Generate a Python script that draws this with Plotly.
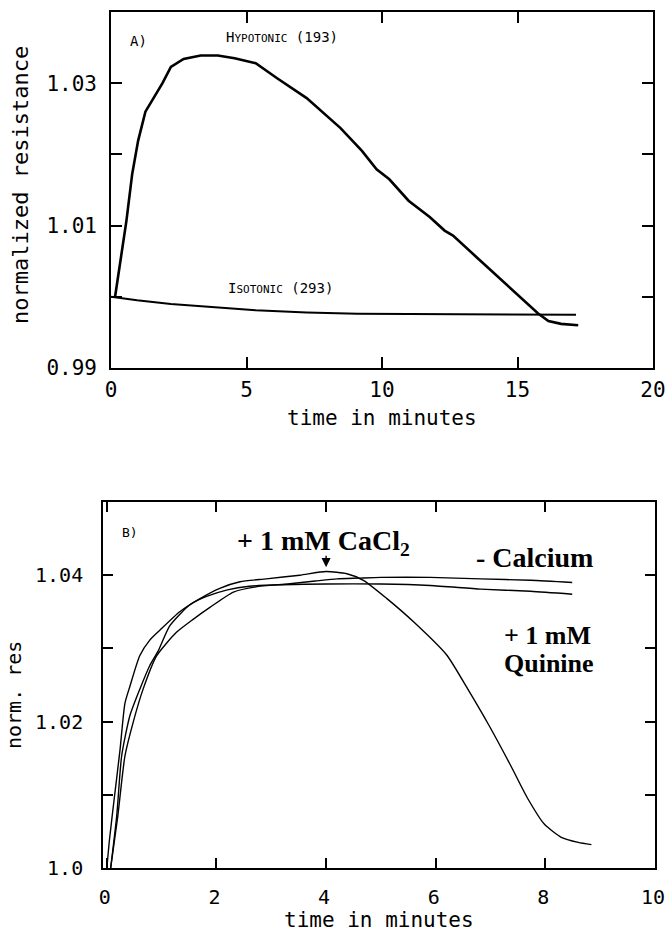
import plotly.graph_objects as go

# ---------- Panel A: normalized resistance vs time ----------
hypo_t = [0.15, 0.25, 0.4, 0.57, 0.78, 1.0, 1.27, 1.59, 1.9, 2.21, 2.68, 3.31, 3.94,
          4.56, 5.34, 6.13, 7.22, 8.47, 9.26, 9.8, 10.27, 10.98, 11.76, 12.31, 12.62,
          13.48, 14.42, 15.36, 15.75, 16.14, 16.61, 17.24]
hypo_v = [1.0000, 1.0025, 1.0065, 1.0107, 1.0172, 1.0219, 1.0260, 1.0281, 1.0300,
          1.0323, 1.0334, 1.0339, 1.0339, 1.0335, 1.0328, 1.0307, 1.0279, 1.0237,
          1.0205, 1.0179, 1.0165, 1.0135, 1.0112, 1.0093, 1.0086, 1.0056, 1.0023,
          0.9991, 0.9977, 0.9966, 0.9962, 0.9960]

iso_t = [0.0, 0.5, 0.96, 2.21, 3.62, 5.34, 7.22, 9.1, 10.98, 12.86, 14.74, 17.16]
iso_v = [1.0000, 0.9997, 0.9995, 0.9990, 0.9986, 0.9981, 0.9978, 0.99763, 0.99758,
         0.99753, 0.99749, 0.99749]

# ---------- Panel B: norm. res vs time ----------
cacl_t = [0.0, 0.05, 0.14, 0.24, 0.33, 0.42, 0.6, 0.78, 0.97, 1.33, 1.7, 2.06, 2.43,
          2.91, 3.52, 4.0, 4.38, 4.68, 5.11, 5.6, 6.2, 6.58, 6.97, 7.36, 7.67, 7.98,
          8.29, 8.6, 8.84]
cacl_v = [1.0000, 1.0040, 1.0098, 1.0161, 1.0225, 1.0248, 1.0290, 1.0311, 1.0325,
          1.0350, 1.0368, 1.0382, 1.0391, 1.0395, 1.0400, 1.0405, 1.0402, 1.0393,
          1.0368, 1.0336, 1.0291, 1.0245, 1.0195, 1.0141, 1.0096, 1.0060, 1.0042,
          1.0035, 1.0032]

nocal_t = [0.07, 0.2, 0.33, 0.48, 0.66, 0.91, 1.27, 1.58, 1.88, 2.31, 2.8, 3.3, 3.8,
           4.2, 4.6, 5.0, 5.9, 6.82, 7.73, 8.49]
nocal_v = [1.0000, 1.0071, 1.0153, 1.0199, 1.0244, 1.0290, 1.0322, 1.0340, 1.0356,
           1.0377, 1.0385, 1.0388, 1.0392, 1.0395, 1.0396, 1.0397, 1.0397, 1.0395,
           1.0393, 1.0390]

quin_t = [0.07, 0.18, 0.27, 0.42, 0.6, 0.78, 0.94, 1.15, 1.52, 1.82, 2.2, 2.6, 3.2,
          4.0, 5.0, 5.9, 6.82, 7.73, 8.49]
quin_v = [1.0000, 1.0071, 1.0153, 1.0208, 1.0244, 1.0276, 1.0297, 1.0331, 1.0360,
          1.0371, 1.0380, 1.0385, 1.0387, 1.0388, 1.0388, 1.0386, 1.0381, 1.0378,
          1.0374]

# tick positions / labels
a_xticks = [0, 5, 10, 15, 20]
a_yticks = [0.99, 1.00, 1.01, 1.02, 1.03, 1.04]
a_ylabels = ["0.99", "", "1.01", "", "1.03", ""]
b_xticks = [0, 2, 4, 6, 8, 10]
b_yticks = [1.00, 1.01, 1.02, 1.03, 1.04, 1.05]
b_ylabels = ["1.0", "", "1.02", "", "1.04", ""]

W, H = 665, 931
MONO = "DejaVu Sans Mono"
SERIF = "Liberation Serif"

fig = go.Figure()
fig.add_trace(go.Scatter(x=hypo_t, y=hypo_v, mode="lines", xaxis="x", yaxis="y",
                         line=dict(color="black", width=2.6), showlegend=False))
fig.add_trace(go.Scatter(x=iso_t, y=iso_v, mode="lines", xaxis="x", yaxis="y",
                         line=dict(color="black", width=2.0), showlegend=False))
b_line = dict(color="black", width=1.4, shape="spline", smoothing=0.6)
fig.add_trace(go.Scatter(x=cacl_t, y=cacl_v, mode="lines", xaxis="x2", yaxis="y2",
                         line=b_line, showlegend=False))
fig.add_trace(go.Scatter(x=nocal_t, y=nocal_v, mode="lines", xaxis="x2", yaxis="y2",
                         line=b_line, showlegend=False))
fig.add_trace(go.Scatter(x=quin_t, y=quin_v, mode="lines", xaxis="x2", yaxis="y2",
                         line=b_line, showlegend=False))

axis_common = dict(showgrid=False, zeroline=False, showline=True, linecolor="black",
                   linewidth=1.6, mirror="ticks", ticks="inside", tickcolor="black",
                   tickwidth=1.5, ticklabeloverflow="allow", automargin=False)
font_a = dict(family=MONO, size=21, color="black")
font_b = dict(family=MONO, size=20, color="black")

fig.update_layout(
    width=W, height=H,
    margin=dict(l=0, r=0, t=0, b=0),
    paper_bgcolor="white", plot_bgcolor="white",
    xaxis=dict(domain=[111 / W, 653 / W], range=[0, 20], tickvals=a_xticks,
               ticklen=11, anchor="y", ticklabelstandoff=2, tickfont=font_a,
               **axis_common),
    yaxis=dict(domain=[1 - 368 / H, 1 - 12 / H], range=[0.99, 1.04], tickvals=a_yticks,
               ticktext=a_ylabels, ticklen=11, anchor="x", ticklabelstandoff=8,
               tickfont=font_a, **axis_common),
    xaxis2=dict(domain=[103 / W, 655 / W], range=[-0.07, 10], tickvals=b_xticks,
                ticklen=10, anchor="y2", ticklabelstandoff=10, ticklabelshift=-2,
                tickfont=font_b, **axis_common),
    yaxis2=dict(domain=[1 - 868 / H, 1 - 502 / H], range=[1.0, 1.05], tickvals=b_yticks,
                ticktext=b_ylabels, ticklen=10, anchor="x2", ticklabelstandoff=14,
                tickfont=font_b, **axis_common),
)

annos = []
# axis titles
annos.append(dict(text="time in minutes", xref="paper", yref="paper",
                  x=(111 + 653) / 2 / W, y=1 - 418 / H, xanchor="center",
                  yanchor="middle", showarrow=False,
                  font=dict(family=MONO, size=21, color="black")))
annos.append(dict(text="normalized resistance", xref="paper", yref="paper",
                  x=21 / W, y=1 - 185 / H, textangle=-90, xanchor="center",
                  yanchor="middle", showarrow=False,
                  font=dict(family=MONO, size=22, color="black")))
annos.append(dict(text="time in minutes", xref="paper", yref="paper",
                  x=(103 + 655) / 2 / W, y=1 - 920 / H, xanchor="center",
                  yanchor="middle", showarrow=False,
                  font=dict(family=MONO, size=21, color="black")))
annos.append(dict(text="norm. res", xref="paper", yref="paper",
                  x=14 / W, y=1 - 695 / H, textangle=-90, xanchor="center",
                  yanchor="middle", showarrow=False,
                  font=dict(family=MONO, size=20, color="black")))

# panel A labels
annos.append(dict(text="A)", xref="x", yref="y", x=1.0, y=1.0359, showarrow=False,
                  font=dict(family=MONO, size=14, color="black")))
annos.append(dict(text="H<span style='font-size:11px'>YPOTONIC</span> (193)",
                  xref="x", yref="y", x=6.3, y=1.0365, showarrow=False,
                  font=dict(family=MONO, size=14, color="black")))
annos.append(dict(text="I<span style='font-size:11px'>SOTONIC</span> (293)",
                  xref="x", yref="y", x=6.25, y=1.0012, showarrow=False,
                  font=dict(family=MONO, size=14, color="black")))

# panel B labels
annos.append(dict(text="B)", xref="x2", yref="y2", x=0.42, y=1.0458, showarrow=False,
                  font=dict(family=MONO, size=13, color="black")))
annos.append(dict(text="+ 1 mM CaCl<sub>2</sub>", xref="x2", yref="y2", x=2.33,
                  y=1.0445, xanchor="left", yanchor="middle", showarrow=False,
                  font=dict(family=SERIF, size=28, color="black", weight="bold")))
annos.append(dict(text="", xref="x2", yref="y2", x=4.0, y=1.0411, showarrow=True,
                  ax=0, ay=-13, arrowhead=2, arrowsize=1.3, arrowwidth=1.4,
                  arrowcolor="black"))
annos.append(dict(text="- Calcium", xref="x2", yref="y2", x=6.7, y=1.0424,
                  xanchor="left", yanchor="middle", showarrow=False,
                  font=dict(family=SERIF, size=28, color="black", weight="bold")))
annos.append(dict(text="+ 1 mM", xref="x2", yref="y2", x=7.2, y=1.0318,
                  xanchor="left", yanchor="middle", showarrow=False,
                  font=dict(family=SERIF, size=26, color="black", weight="bold")))
annos.append(dict(text="Quinine", xref="x2", yref="y2", x=7.2, y=1.0279,
                  xanchor="left", yanchor="middle", showarrow=False,
                  font=dict(family=SERIF, size=26, color="black", weight="bold")))

fig.update_layout(annotations=annos)
fig.write_html("out.html")
